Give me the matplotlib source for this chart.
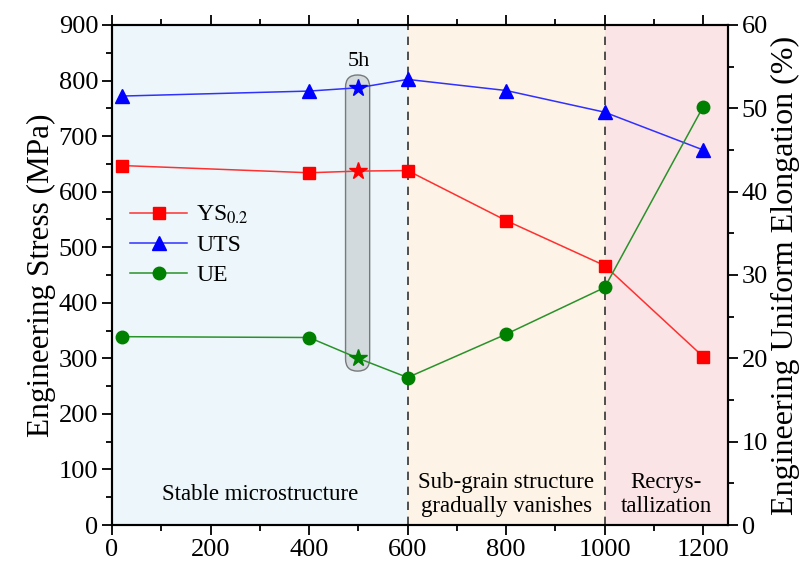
import numpy as np
import matplotlib.pyplot as plt
from matplotlib.patches import FancyBboxPatch
from matplotlib.transforms import IdentityTransform
from matplotlib.ticker import MultipleLocator

plt.rcParams['font.family'] = ['Liberation Serif', 'DejaVu Serif']
plt.rcParams['mathtext.fontset'] = 'stix'

# annealing temperature (C); 500 is the 5h point drawn as a star
temps = [20, 400, 500, 600, 800, 1000, 1200]
ys = [647, 634, 637, 638, 548, 467, 303]
uts = [772, 781, 787, 802, 782, 743, 675]
ue = [22.6, 22.5, 20.0, 17.7, 22.9, 28.5, 50.2]
star_idx = 2
regions = [(0, 600, '#edf7fb'), (600, 1000, '#fdf3e6'), (1000, 1250, '#fbe4e5')]
region_labels = ['Stable microstructure', 'Sub-grain structure\ngradually vanishes',
                 'Recrys-\ntallization']
region_pos = [300, 800, 1125]

fig, ax = plt.subplots(figsize=(8.06, 5.67), dpi=100)
fig.subplots_adjust(left=0.139, right=0.903, top=0.956, bottom=0.074)
ax2 = ax.twinx()
ax.set_zorder(ax2.get_zorder() + 1)
ax.patch.set_visible(False)

for x0, x1, c in regions:
    ax2.axvspan(x0, x1, color=c, zorder=0, lw=0)
for xv in [600, 1000]:
    ax.axvline(xv, color='#333333', ls=(0, (5, 4)), lw=1.2, zorder=1)

ax.set_xlim(0, 1250)
ax.set_ylim(0, 900)
ax2.set_ylim(0, 60)

# 5h capsule, drawn in pixels so the ends are true semicircles
(px0, py0), (px1, py1) = ax.transData.transform([(474, 277), (523, 810)])
cap = FancyBboxPatch((px0, py0), px1 - px0, py1 - py0,
                     boxstyle='round,pad=0,rounding_size=%f' % ((px1 - px0) / 2),
                     transform=IdentityTransform(), fc='#c9d1d3', ec='#555555',
                     lw=1.0, alpha=0.75, zorder=2)
ax.add_artist(cap)
ax.text(500, 818, '5h', ha='center', va='bottom', fontsize=16)

mk = [i for i in range(len(temps)) if i != star_idx]
l1, = ax.plot(temps, ys, color='#ff3030', lw=1.1, marker='s', ms=9, mfc='red',
              mec='red', markevery=mk, zorder=4, label='YS$_{0.2}$')
l2, = ax.plot(temps, uts, color='#3030ff', lw=1.1, marker='^', ms=10, mfc='blue',
              mec='blue', markevery=mk, zorder=4, label='UTS')
ax.plot(temps[star_idx], ys[star_idx], marker='*', ms=13, color='red', zorder=5)
ax.plot(temps[star_idx], uts[star_idx], marker='*', ms=13, color='blue', zorder=5)

# UE belongs to the right axis (0-60 %), drawn on ax for layering
ue_left = [v * 900 / 60 for v in ue]
l3, = ax.plot(temps, ue_left, color='#2a922a', lw=1.1, marker='o', ms=9,
              mfc='green', mec='green', markevery=mk, zorder=4, label='UE')
ax.plot(temps[star_idx], ue_left[star_idx], marker='*', ms=13, color='green', zorder=5)

for lab, xp in zip(region_labels, region_pos):
    ax.text(xp, 55, lab, ha='center', va='center', fontsize=16.5, linespacing=1.2, zorder=3)

ax.xaxis.set_major_locator(MultipleLocator(200))
ax.xaxis.set_minor_locator(MultipleLocator(100))
ax.yaxis.set_major_locator(MultipleLocator(100))
ax.yaxis.set_minor_locator(MultipleLocator(50))
ax2.yaxis.set_major_locator(MultipleLocator(10))
ax2.yaxis.set_minor_locator(MultipleLocator(5))

for a in (ax, ax2):
    a.tick_params(which='major', direction='out', length=7, width=1.3, labelsize=19, pad=3)
    a.tick_params(which='minor', direction='out', length=4, width=1.3)
    for s in a.spines.values():
        s.set_linewidth(1.5)
ax.tick_params(which='both', top=True)

ax.set_ylabel('Engineering Stress (MPa)', fontsize=22.5, labelpad=2)
ax2.set_ylabel('Engineering Uniform Elongation (%)', fontsize=23, labelpad=2)

ax.legend(handles=[l1, l2, l3], loc='center left', bbox_to_anchor=(-0.005, 0.56),
          frameon=False, fontsize=17, handlelength=2.4, handletextpad=0.4,
          labelspacing=0.35)

fig.savefig('out.png', dpi=100)
